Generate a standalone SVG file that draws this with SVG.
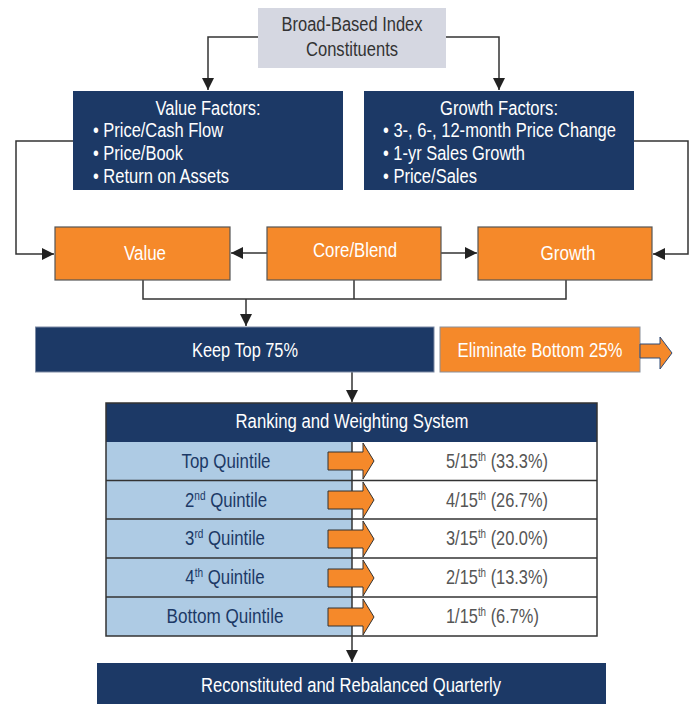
<svg xmlns="http://www.w3.org/2000/svg" width="692" height="704" viewBox="0 0 692 704">
<defs>
<marker id="ah" viewBox="0 0 12 12" refX="12" refY="6" markerWidth="12" markerHeight="12" markerUnits="userSpaceOnUse" orient="auto">
<path d="M0,0 L12,6 L0,12 z" fill="#222"/>
</marker>
<style>
text{font-family:"Liberation Sans",Arial,sans-serif;font-size:20px}
.w{fill:#fff}
.c{text-anchor:middle}
.navy{fill:#1c3966}
.org{fill:#f5892a;stroke:#555;stroke-width:1.2}
.ln{fill:none;stroke:#333;stroke-width:1.5}
.arr{fill:none;stroke:#333;stroke-width:1.5;marker-end:url(#ah)}
.qa{fill:#f5892a;stroke:#333;stroke-width:1}
.lt{fill:#1c3966}
.rt{fill:#555}
.row{stroke:#333;stroke-width:1.5}
.sup{font-size:12px}
</style>
</defs>
<rect width="692" height="704" fill="#fff"/>

<g id="top">
<rect x="258" y="8" width="188" height="60" fill="#d5d7e1"/>
<text class="c" x="352" y="31" fill="#333" textLength="141" lengthAdjust="spacingAndGlyphs">Broad-Based Index</text>
<text class="c" x="352" y="56" fill="#333" textLength="92" lengthAdjust="spacingAndGlyphs">Constituents</text>
</g>

<g id="valueFactors">
<rect class="navy" x="73" y="91" width="270" height="99"/>
<text class="w c" x="208" y="115" textLength="105" lengthAdjust="spacingAndGlyphs">Value Factors:</text>
<text class="w" x="93" y="137" textLength="130" lengthAdjust="spacingAndGlyphs">• Price/Cash Flow</text>
<text class="w" x="93" y="160" textLength="90" lengthAdjust="spacingAndGlyphs">• Price/Book</text>
<text class="w" x="93" y="183" textLength="136" lengthAdjust="spacingAndGlyphs">• Return on Assets</text>
</g>

<g id="growthFactors">
<rect class="navy" x="364" y="91" width="270" height="99"/>
<text class="w c" x="499" y="115" textLength="118" lengthAdjust="spacingAndGlyphs">Growth Factors:</text>
<text class="w" x="383" y="137" textLength="233" lengthAdjust="spacingAndGlyphs">• 3-, 6-, 12-month Price Change</text>
<text class="w" x="383" y="160" textLength="142" lengthAdjust="spacingAndGlyphs">• 1-yr Sales Growth</text>
<text class="w" x="383" y="183" textLength="94" lengthAdjust="spacingAndGlyphs">• Price/Sales</text>
</g>

<g id="connectors">
<polyline class="arr" points="258,37 208,37 208,90"/>
<polyline class="arr" points="446,37 499,37 499,90"/>
<polyline class="arr" points="73,141 16,141 16,254 54,254"/>
<polyline class="arr" points="634,141 688,141 688,254 653,254"/>
<line class="arr" x1="267" y1="253" x2="231" y2="253"/>
<line class="arr" x1="441" y1="253" x2="477" y2="253"/>
<polyline class="ln" points="143,280 143,299 566,299 566,280"/>
<line class="ln" x1="354" y1="280" x2="354" y2="299"/>
<line class="arr" x1="246" y1="299" x2="246" y2="326"/>
<line class="arr" x1="352" y1="372" x2="352" y2="402"/>
</g>

<g id="value">
<rect class="org" x="55" y="227" width="175" height="53"/>
<text class="w c" x="145" y="260" textLength="42" lengthAdjust="spacingAndGlyphs">Value</text>
</g>
<g id="coreBlend">
<rect class="org" x="267" y="227" width="174" height="53"/>
<text class="w c" x="355" y="257" textLength="84" lengthAdjust="spacingAndGlyphs">Core/Blend</text>
</g>
<g id="growth">
<rect class="org" x="478" y="227" width="174" height="53"/>
<text class="w c" x="568" y="260" textLength="55" lengthAdjust="spacingAndGlyphs">Growth</text>
</g>

<g id="keep">
<rect class="navy" x="35.5" y="327" width="398.5" height="45" stroke="#7c8aa3" stroke-width="1"/>
<text class="w c" x="245" y="357" textLength="106" lengthAdjust="spacingAndGlyphs">Keep Top 75%</text>
</g>

<g id="eliminate">
<rect x="440" y="327" width="200" height="45" fill="#f5892a" stroke="#8a8f9a" stroke-width="1"/>
<polygon points="640,344 660,344 660,337 672,353 660,369 660,358 640,358" fill="#f5892a" stroke="#2e4a76" stroke-width="1"/>
<text class="w c" x="540" y="357" textLength="165" lengthAdjust="spacingAndGlyphs">Eliminate Bottom 25%</text>
</g>

<g id="ranking">
<rect x="106" y="442" width="246" height="194" fill="#aecbe4"/>
<rect x="352" y="442" width="245" height="194" fill="#fff"/>
<rect class="navy" x="106" y="403" width="491" height="39"/>
<text class="w c" x="352" y="428" textLength="233" lengthAdjust="spacingAndGlyphs">Ranking and Weighting System</text>
<line class="row" x1="106" y1="480.5" x2="597" y2="480.5"/>
<line class="row" x1="106" y1="519" x2="597" y2="519"/>
<line class="row" x1="106" y1="558" x2="597" y2="558"/>
<line class="row" x1="106" y1="597" x2="597" y2="597"/>
<rect x="106" y="403" width="491" height="233" fill="none" stroke="#333" stroke-width="1.5"/>
<line class="arr" x1="352" y1="442" x2="352" y2="662"/>
</g>

<g id="quintiles">
<polygon class="qa" points="328,452 363,452 363,443 374,461 363,479 363,470 328,470"/>
<polygon class="qa" points="328,491 363,491 363,482 374,500 363,518 363,509 328,509"/>
<polygon class="qa" points="328,530 363,530 363,521 374,539 363,557 363,548 328,548"/>
<polygon class="qa" points="328,569 363,569 363,560 374,578 363,596 363,587 328,587"/>
<polygon class="qa" points="328,608 363,608 363,599 374,617 363,635 363,626 328,626"/>
<text class="lt c" x="226" y="468" textLength="89" lengthAdjust="spacingAndGlyphs">Top Quintile</text>
<text class="lt c" transform="matrix(0.84,0,0,1,226,507)">2<tspan class="sup" dy="-7">nd</tspan><tspan dy="7"> Quintile</tspan></text>
<text class="lt c" transform="matrix(0.84,0,0,1,225,545)">3<tspan class="sup" dy="-7">rd</tspan><tspan dy="7"> Quintile</tspan></text>
<text class="lt c" transform="matrix(0.84,0,0,1,225,584)">4<tspan class="sup" dy="-7">th</tspan><tspan dy="7"> Quintile</tspan></text>
<text class="lt c" x="225" y="623" textLength="117" lengthAdjust="spacingAndGlyphs">Bottom Quintile</text>
<text class="rt" transform="matrix(0.82,0,0,1,446,468)">5/15<tspan class="sup" dy="-7">th</tspan><tspan dy="7"> (33.3%)</tspan></text>
<text class="rt" transform="matrix(0.82,0,0,1,446,507)">4/15<tspan class="sup" dy="-7">th</tspan><tspan dy="7"> (26.7%)</tspan></text>
<text class="rt" transform="matrix(0.82,0,0,1,446,545)">3/15<tspan class="sup" dy="-7">th</tspan><tspan dy="7"> (20.0%)</tspan></text>
<text class="rt" transform="matrix(0.82,0,0,1,446,584)">2/15<tspan class="sup" dy="-7">th</tspan><tspan dy="7"> (13.3%)</tspan></text>
<text class="rt" transform="matrix(0.82,0,0,1,446,623)">1/15<tspan class="sup" dy="-7">th</tspan><tspan dy="7"> (6.7%)</tspan></text>
</g>

<g id="reconstituted">
<rect class="navy" x="97" y="663" width="509" height="41"/>
<text class="w c" x="351" y="692" textLength="300" lengthAdjust="spacingAndGlyphs">Reconstituted and Rebalanced Quarterly</text>
</g>
</svg>
